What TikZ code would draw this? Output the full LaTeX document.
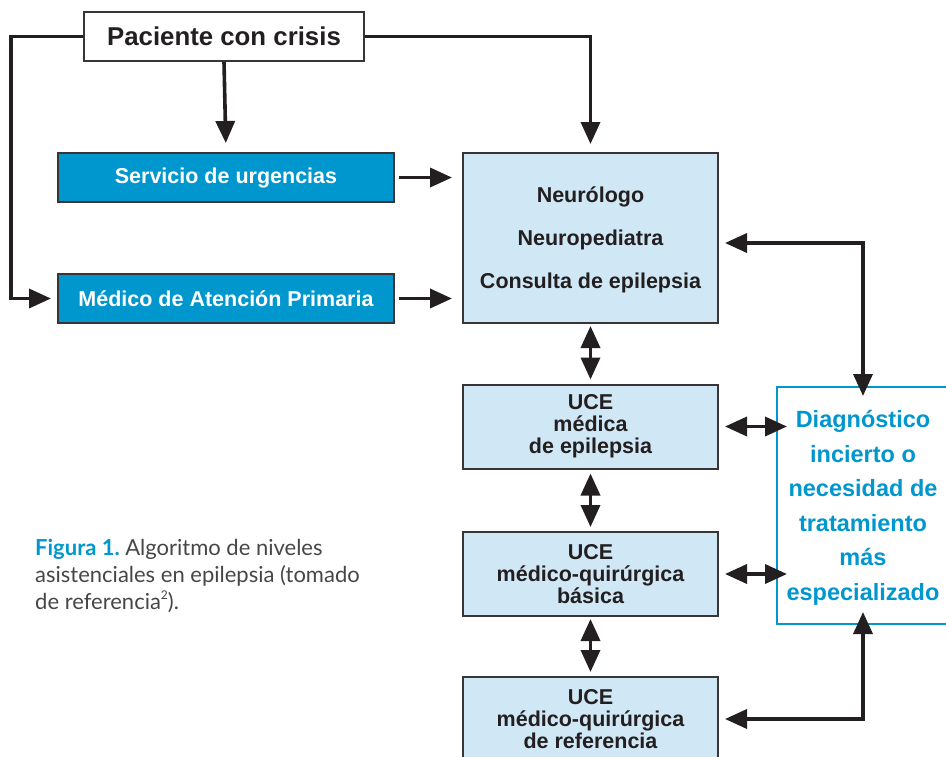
\documentclass[tikz,border=0pt]{standalone}
\usepackage{fontspec}
\setmainfont{Liberation Sans}
\newfontfamily\capfont{Lato}
\usetikzlibrary{arrows.meta}
\definecolor{azul}{RGB}{0,150,206}
\definecolor{celeste}{RGB}{208,232,245}
\definecolor{negro}{RGB}{35,31,32}
\definecolor{gris}{RGB}{70,70,70}

\begin{document}
\begin{tikzpicture}[x=1pt,y=-1pt,
  caja/.style={draw=negro!90, line width=2pt, align=center, inner sep=0pt,
    text=negro, font=\bfseries\fontsize{21.5}{22}\selectfont},
  cajaazul/.style={caja, fill=azul, text=white, minimum width=336pt, minimum height=49pt},
  cajauce/.style={caja, fill=celeste, minimum width=255pt, minimum height=84pt},
  flecha/.style={line width=3.6pt, draw=negro, -{Triangle[length=22pt,width=19pt]}},
  dflecha/.style={flecha, {Triangle[length=22pt,width=19pt]}-{Triangle[length=22pt,width=19pt]}}]

\useasboundingbox (0,0) rectangle (946,756);

\node[caja, fill=white, minimum width=280pt, minimum height=49pt,
  font=\bfseries\fontsize{25.8}{30}\selectfont] (pac) at (224,36.5) {Paciente con crisis};

\node[cajaazul] (urg) at (226,177.5) {Servicio de urgencias};
\node[cajaazul] (med) at (226,298.5) {Médico de Atención Primaria};

\node[caja, fill=celeste, minimum width=255pt, minimum height=170pt, text depth=-4pt,
  font=\bfseries\fontsize{21.5}{43}\selectfont] (neu) at (590.5,238)
  {Neurólogo\\Neuropediatra\\Consulta de epilepsia};

\node[cajauce] (uce1) at (590.5,426.5) {UCE\\médica\\de epilepsia};
\node[cajauce] (uce2) at (590.5,574) {UCE\\médico-quirúrgica\\básica};
\node[cajauce] (uce3) at (590.5,719) {UCE\\médico-quirúrgica\\de referencia};

\node[draw=azul, line width=2pt, fill=white, text=azul, align=center, inner sep=0pt,
  minimum width=172pt, minimum height=237pt, text depth=-20pt,
  font=\bfseries\fontsize{23.5}{34.5}\selectfont] (diag) at (863,505.5)
  {Diagnóstico\\incierto o\\necesidad de\\tratamiento\\más\\especializado};

\draw[flecha, shorten >=6pt] (pac.west) -- ++(-72,0) |- (med.west);
\draw[flecha, shorten >=9pt] (pac.south) -- (urg.north);
\draw[flecha, shorten >=8pt] (pac.east) -| (neu.north);

\draw[flecha, shorten <=4pt, shorten >=10pt] (urg.east) -- (urg.east -| neu.west);
\draw[flecha, shorten <=4pt, shorten >=10pt] (med.east) -- (med.east -| neu.west);

\draw[dflecha, shorten <=6pt, shorten >=-10pt] ([yshift=-5pt]neu.east) -| (diag.north);
\draw[dflecha, shorten <=2pt, shorten >=4pt] (neu.south) -- (uce1.north);
\draw[dflecha, shorten <=4pt, shorten >=4pt] (uce1.south) -- (uce2.north);
\draw[dflecha, shorten <=2pt, shorten >=4pt] (uce2.south) -- (uce3.north);

\draw[dflecha, shorten <=6pt, shorten >=-11pt] (uce1.east) -- (uce1.east -| diag.west);
\draw[dflecha, shorten <=6pt, shorten >=-11pt] (uce2.east) -- (uce2.east -| diag.west);
\draw[dflecha, shorten <=-13pt, shorten >=6pt] (diag.south) |- (uce3.east);

\node[anchor=base west, align=left, inner sep=0pt, text=gris,
  font=\capfont\fontsize{22}{27}\selectfont] (cap) at (35,609)
  {{\color{azul}\bfseries Figura 1.}\hspace{-2pt} Algoritmo de niveles\\
   asistenciales en epilepsia (tomado\\
   de referencia\raisebox{0.45em}{\fontsize{12}{12}\selectfont 2}).};
\end{tikzpicture}
\end{document}
